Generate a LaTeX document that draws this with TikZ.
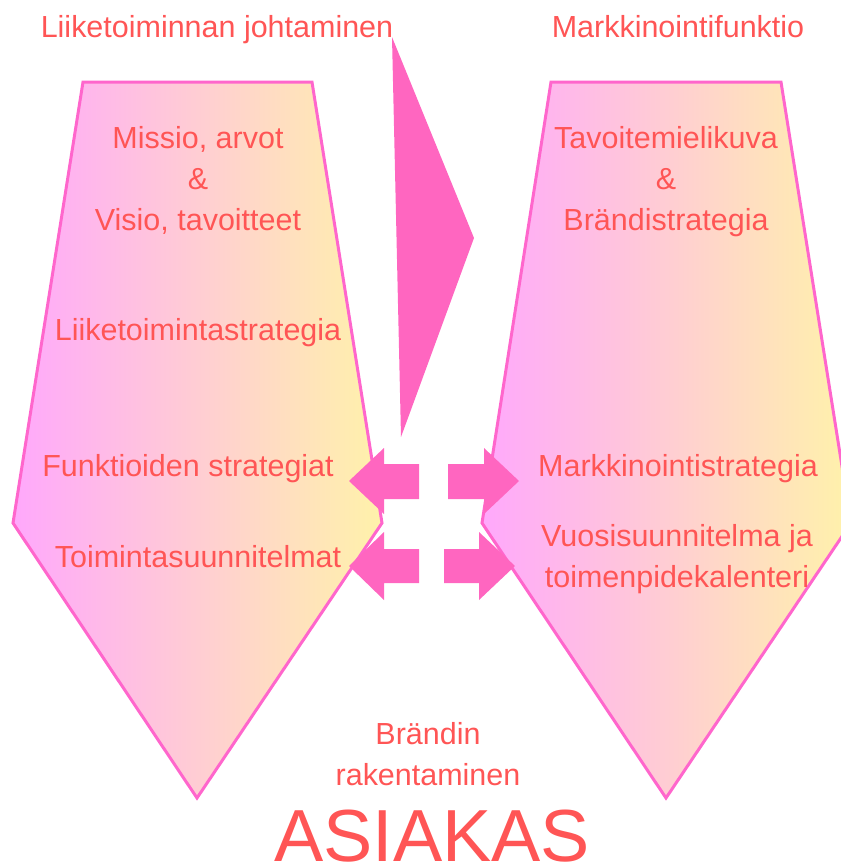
\documentclass[tikz,border=0pt]{standalone}
\usepackage{fontspec}
\setmainfont{Liberation Sans}
\usepackage{tikz}
\usetikzlibrary{positioning}
\definecolor{brandpink}{RGB}{255,102,204}
\definecolor{brandhot}{RGB}{255,102,192}
\definecolor{brandtext}{RGB}{255,85,85}
\definecolor{lightviolet}{RGB}{255,168,252}
\definecolor{lightyellow}{RGB}{255,242,170}
\tikzset{
  pencil/.style={
    draw=brandpink, line width=1.7pt, line join=miter,
    left color=lightviolet, right color=lightyellow
  },
  flow/.style={fill=brandhot},
  txt/.style={
    text=brandtext, font=\fontsize{17.35}{23.3}\selectfont,
    align=center, inner sep=0pt, anchor=base
  },
  bigtxt/.style={
    text=brandtext, font=\fontsize{42}{50}\selectfont,
    inner sep=0pt, anchor=base
  }
}

\begin{document}
\begin{tikzpicture}[x=0.02cm, y=-0.02cm]
  \useasboundingbox (0,0) rectangle (841,867);
  \clip (0,0) rectangle (841,867);

  % the two pencils
  \path[pencil] (83,82) -- (312,82) -- (382,523) -- (197,798) -- (13,523) -- cycle;
  \path[pencil] (551,82) -- (781,82) -- (851,523) -- (666,798) -- (482,523) -- cycle;

  % wedge between them
  \fill[brandhot] (392,37) -- (474,238) -- (401,437) -- cycle;

  % block arrows
  \fill[flow] (349,481) -- (384,448) -- (384,464) -- (419,464)
    -- (419,499) -- (384,499) -- (384,514) -- cycle;
  \fill[flow] (519,481) -- (484,448) -- (484,464) -- (448,464)
    -- (448,499) -- (484,499) -- (484,514) -- cycle;
  \fill[flow] (349,566) -- (384,532) -- (384,549) -- (419,549)
    -- (419,583) -- (384,583) -- (384,600) -- cycle;
  \fill[flow] (515,566) -- (479,532) -- (479,549) -- (444,549)
    -- (444,583) -- (479,583) -- (479,600) -- cycle;

  % texts (base = last line)
  \node[txt] (lead) at (217,37) {Liiketoiminnan johtaminen};
  \node[txt] (mkt) at (678,37) {Markkinointifunktio};

  \node[txt] (mission) at (198,230) {Missio, arvot\\\&\\Visio, tavoitteet};
  \node[txt] (bizstrat) at (198,340) {Liiketoimintastrategia};
  \node[txt] (funcstrat) at (188,476) {Funktioiden strategiat};
  \node[txt] (actplan) at (198,567) {Toimintasuunnitelmat};

  \node[txt] (image) at (666,230) {Tavoitemielikuva\\\&\\Brändistrategia};
  \node[txt] (mktstrat) at (678,476) {Markkinointistrategia};
  \node[txt, font=\fontsize{17.35}{22.8}\selectfont] (yearplan) at (677,587)
    {Vuosisuunnitelma ja\\toimenpidekalenteri};

  \node[txt, font=\fontsize{17.35}{22.8}\selectfont] (brand) at (428,785)
    {Brändin\\rakentaminen};
  \node[bigtxt] (asiakas) at (432,861) {ASIAKAS};
\end{tikzpicture}
\end{document}
